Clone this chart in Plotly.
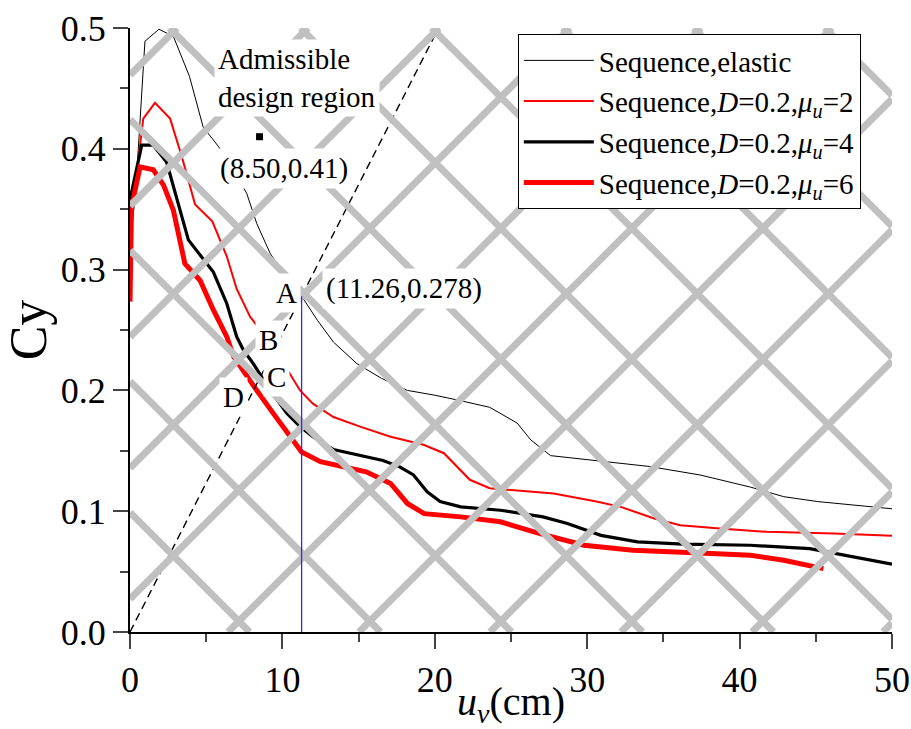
import plotly.graph_objects as go

# ---------------- data ----------------
elastic_x = [0.05, 0.35, 0.98, 1.9, 2.85, 3.9, 4.8, 5.8, 6.7, 7.66, 8.32, 9.19, 10.2, 11.26, 12.3, 13.35,
             14.9, 16.5, 18.2, 20.0, 21.5, 23.6, 25.4, 26.3, 27.6, 30.4, 34.1, 37.4, 40.7, 42.9, 45.1, 50.0]
elastic_y = [0.33, 0.36, 0.489, 0.499, 0.493, 0.46, 0.418, 0.402, 0.385, 0.363, 0.338, 0.3136, 0.294, 0.278,
             0.258, 0.240, 0.222, 0.210, 0.200, 0.196, 0.192, 0.186, 0.173, 0.159, 0.146, 0.142, 0.137,
             0.130, 0.120, 0.112, 0.108, 0.102]

mu2_x = [0.0, 0.25, 0.87, 1.64, 2.63, 3.39, 4.27, 5.4, 6.35, 7.0, 7.88, 9.41, 11.16, 12.0, 13.35, 15.1,
         17.1, 19.26, 20.6, 21.45, 22.3, 23.6, 26.3, 27.8, 30.6, 32.2, 34.4, 36.1, 38.7, 41.8, 46.2, 50.0]
mu2_y = [0.345, 0.36, 0.425, 0.438, 0.425, 0.394, 0.354, 0.340, 0.311, 0.284, 0.261, 0.236, 0.200, 0.189,
         0.178, 0.170, 0.1616, 0.155, 0.148, 0.137, 0.126, 0.119, 0.116, 0.1147, 0.108, 0.1036, 0.094,
         0.0884, 0.0857, 0.0829, 0.0815, 0.0796]

mu4_x = [0.0, 0.77, 1.53, 2.4, 3.83, 4.6, 5.47, 6.35, 7.0, 7.44, 8.1, 9.2, 10.3, 11.16, 12.0, 13.35, 16.6,
         17.7, 18.6, 19.5, 20.35, 21.7, 24.3, 27.1, 28.7, 30.9, 33.3, 36.3, 40.7, 44.6, 46.2, 50.0]
mu4_y = [0.358, 0.403, 0.403, 0.389, 0.3246, 0.312, 0.298, 0.272, 0.2445, 0.2334, 0.222, 0.200, 0.181,
         0.170, 0.1616, 0.151, 0.142, 0.1367, 0.130, 0.116, 0.108, 0.1036, 0.1008, 0.0953, 0.0898, 0.080,
         0.0746, 0.0727, 0.0718, 0.069, 0.065, 0.0561]

mu6_x = [0.0, 0.1, 0.66, 1.53, 2.2, 2.85, 3.6, 4.6, 5.47, 6.35, 6.8, 7.44, 8.3, 9.4, 10.5, 11.26, 12.5,
         15.5, 17.1, 17.7, 18.2, 19.3, 21.7, 24.3, 26.9, 29.8, 33.0, 37.4, 40.7, 42.9, 45.5]
mu6_y = [0.2735, 0.352, 0.385, 0.3826, 0.370, 0.349, 0.305, 0.291, 0.2666, 0.2445, 0.228, 0.2169, 0.2003,
         0.181, 0.162, 0.149, 0.141, 0.1326, 0.123, 0.1147, 0.1064, 0.098, 0.0953, 0.0912, 0.0815, 0.0718,
         0.0677, 0.0655, 0.0636, 0.0594, 0.0525]

design_line_x = [0.0, 20.25]
design_line_y = [0.0, 0.5]

point_a = (11.26, 0.278)
design_point = (8.50, 0.41)

series_names = [
    "Sequence,elastic",
    "Sequence,<i>D</i>=0.2,<i>μ</i><sub><i>u</i></sub>=2",
    "Sequence,<i>D</i>=0.2,<i>μ</i><sub><i>u</i></sub>=4",
    "Sequence,<i>D</i>=0.2,<i>μ</i><sub><i>u</i></sub>=6",
]

x_ticks = [0, 10, 20, 30, 40, 50]
y_ticks = [0.0, 0.1, 0.2, 0.3, 0.4, 0.5]

# ---------------- styling ----------------
FONT = "Liberation Serif, Times New Roman, Times, serif"
W, H = 911, 729
ML, MR, MT, MB = 130, 19, 28, 97
XR = (0, 50)
YR = (0, 0.5)

fig = go.Figure()

fig.add_trace(go.Scatter(x=elastic_x, y=elastic_y, mode="lines", name=series_names[0],
                         line=dict(color="black", width=1)))
fig.add_trace(go.Scatter(x=mu2_x, y=mu2_y, mode="lines", name=series_names[1],
                         line=dict(color="#ff0000", width=2)))
fig.add_trace(go.Scatter(x=mu4_x, y=mu4_y, mode="lines", name=series_names[2],
                         line=dict(color="black", width=3.2)))
fig.add_trace(go.Scatter(x=mu6_x, y=mu6_y, mode="lines", name=series_names[3],
                         line=dict(color="#ff0000", width=5)))
fig.add_trace(go.Scatter(x=design_line_x, y=design_line_y, mode="lines", showlegend=False,
                         line=dict(color="black", width=1.4, dash="8px,5px")))
fig.add_trace(go.Scatter(x=[design_point[0]], y=[design_point[1]], mode="markers", showlegend=False,
                         marker=dict(symbol="square", size=7, color="black")))

# ---------------- diagonal background-grid decoration (above data) ----------------
pw = W - ML - MR
ph = H - MT - MB
SPACING = 131.0
OFF_SUM = 47.0     # u + v = OFF_SUM + k*SPACING (plot pixel coords)
OFF_DIFF = 39.6    # u - v = OFF_DIFF + k*SPACING


def to_data(u, v):
    return XR[0] + u / pw * (XR[1] - XR[0]), YR[1] - v / ph * (YR[1] - YR[0])


def clip_line(p, d):
    # Liang-Barsky clipping of infinite line p + t d to [0,pw]x[0,ph]
    t0, t1 = -1e9, 1e9
    for pi, di, lo, hi in ((p[0], d[0], 0, pw), (p[1], d[1], 0, ph)):
        if di == 0:
            if pi < lo or pi > hi:
                return None
            continue
        a, b = (lo - pi) / di, (hi - pi) / di
        t0, t1 = max(t0, min(a, b)), min(t1, max(a, b))
    if t0 >= t1:
        return None
    return (p[0] + t0 * d[0], p[1] + t0 * d[1]), (p[0] + t1 * d[0], p[1] + t1 * d[1])


shapes = []
for off, d in ((OFF_SUM, (1, -1)), (OFF_DIFF, (1, 1))):
    for k in range(-12, 20):
        c = off + k * SPACING
        seg = clip_line((c, 0), d)
        if seg is None:
            continue
        (u0, v0), (u1, v1) = seg
        x0, y0 = to_data(u0, v0)
        x1, y1 = to_data(u1, v1)
        shapes.append(dict(type="line", xref="x", yref="y", x0=x0, y0=y0, x1=x1, y1=y1,
                           line=dict(color="#c0c0c0", width=7), layer="above"))

# vertical blue line at point A
shapes.append(dict(type="line", xref="x", yref="y", x0=point_a[0], x1=point_a[0], y0=0, y1=point_a[1],
                   line=dict(color="#2a2aff", width=1.3), layer="above"))

fig.update_layout(shapes=shapes)

# ---------------- annotations ----------------
ann_font = dict(family=FONT, size=29, color="black")
annotations = [
    dict(x=10.93, y=0.459, text="Admissible<br>design region", align="left"),
    dict(x=10.11, y=0.384, text="(%.2f,%.2f)" % design_point),
    dict(x=17.96, y=0.284, text="(%.2f,%.3f)" % point_a),
    dict(x=10.29, y=0.2804, text="A"),
    dict(x=9.08, y=0.2417, text="B"),
    dict(x=9.63, y=0.2113, text="C"),
    dict(x=6.78, y=0.1947, text="D"),
]
for a in annotations:
    a.update(xref="x", yref="y", showarrow=False, font=ann_font, bgcolor="white", borderpad=3)
fig.update_layout(annotations=annotations)

fig.update_layout(
    width=W, height=H,
    margin=dict(l=ML, r=MR, t=MT, b=MB, pad=0, autoexpand=False),
    paper_bgcolor="white", plot_bgcolor="white",
    font=dict(family=FONT, color="black"),
    showlegend=True,
    legend=dict(x=0.509, y=0.99, xanchor="left", yanchor="top",
                bgcolor="white", bordercolor="black", borderwidth=1,
                font=dict(family=FONT, size=29, color="black"),
                itemwidth=70, tracegroupgap=0),
    xaxis=dict(range=list(XR), tickvals=x_ticks, ticks="outside", ticklen=15, tickwidth=2,
               showline=True, linecolor="black", linewidth=2, showgrid=False, zeroline=False,
               automargin=False, tickfont=dict(family=FONT, size=36),
               minor=dict(dtick=5, ticks="outside", ticklen=8, tickwidth=2, showgrid=False),
               title=dict(text="<i>u</i><sub><i>v</i></sub>(cm)", font=dict(family=FONT, size=40),
                          standoff=0)),
    yaxis=dict(range=list(YR), tickvals=y_ticks, tickformat=".1f", ticks="outside", ticklen=15,
               tickwidth=2, showline=True, linecolor="black", linewidth=2, showgrid=False,
               zeroline=False, automargin=False, tickfont=dict(family=FONT, size=36),
               minor=dict(dtick=0.05, ticks="outside", ticklen=8, tickwidth=2, showgrid=False),
               title=dict(text="Cy", font=dict(family=FONT, size=52), standoff=8)),
)

fig.write_html("out.html")
